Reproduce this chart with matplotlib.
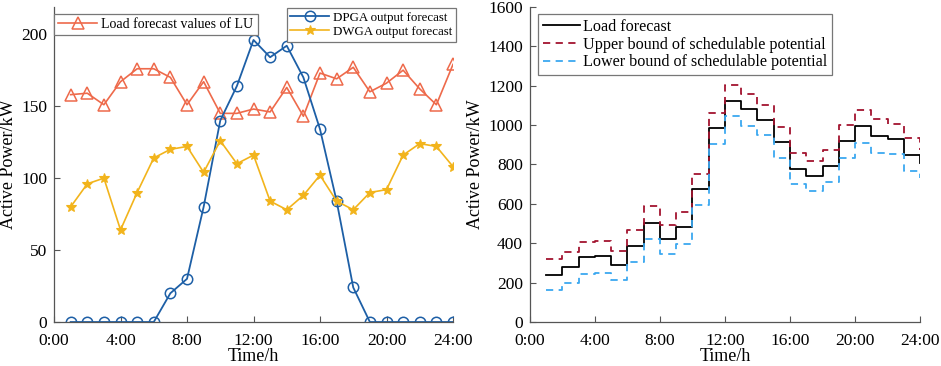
import numpy as np
import matplotlib.pyplot as plt

plt.rcParams['font.family'] = ['Liberation Serif', 'DejaVu Serif']

hours = np.arange(1, 25)
tick_hours = [0, 4, 8, 12, 16, 20, 24]
tick_labels = ['0:00', '4:00', '8:00', '12:00', '16:00', '20:00', '24:00']

# left panel
lu_load = [158, 159, 151, 167, 176, 176, 170, 151, 167, 145, 145, 148,
           146, 163, 143, 173, 169, 177, 160, 166, 175, 162, 151, 179]
dpga = [0, 0, 0, 0, 0, 0, 20, 30, 80, 140, 164, 196,
        184, 192, 170, 134, 84, 24, 0, 0, 0, 0, 0, 0]
dwga = [80, 96, 100, 64, 90, 114, 120, 122, 104, 126, 110, 116,
        84, 78, 88, 102, 84, 78, 90, 92, 116, 124, 122, 108]

# right panel
load_fc = [240, 278, 329, 334, 287, 387, 504, 422, 482, 674, 984, 1124,
           1081, 1025, 914, 777, 740, 791, 918, 996, 945, 931, 850, 806]
upper = [319, 355, 407, 411, 363, 467, 589, 494, 560, 753, 1062, 1203,
         1160, 1103, 989, 857, 818, 872, 1001, 1077, 1030, 1004, 933, 874]
lower = [163, 197, 246, 249, 215, 307, 422, 344, 397, 596, 903, 1047,
         994, 948, 835, 701, 667, 711, 835, 911, 860, 852, 769, 730]

fig = plt.figure(figsize=(9.41, 3.66), dpi=100)
ax1 = fig.add_axes([0.0574, 0.1202, 0.424, 0.861])
ax2 = fig.add_axes([0.5632, 0.1202, 0.4145, 0.861])

gray = '#555555'


def style(ax):
    for s in ['top', 'right']:
        ax.spines[s].set_visible(False)
    for s in ['left', 'bottom']:
        ax.spines[s].set_color(gray)
        ax.spines[s].set_linewidth(0.9)
    ax.tick_params(direction='in', length=4, width=0.8, color=gray,
                   labelsize=12.5)
    ax.tick_params(axis='x', pad=8)
    ax.tick_params(axis='y', pad=5)
    ax.set_xlim(0, 24)
    ax.set_xticks(tick_hours)
    ax.set_xticklabels(tick_labels)
    ax.set_xlabel('Time/h', fontsize=13, labelpad=-1)
    ax.set_ylabel('Active Power/kW', fontsize=13, labelpad=3)


l1, = ax1.plot(hours, lu_load, color='#EE6A4B', lw=1.2, marker='^',
               ms=8, mfc='none', mew=1.1, label='Load forecast values of LU')
l2, = ax1.plot(hours, dpga, color='#1D5FA6', lw=1.3, marker='o',
               ms=7.5, mfc='none', mew=1.1, label='DPGA output forecast')
l3, = ax1.plot(hours, dwga, color='#F2B41C', lw=1.2, marker='*',
               ms=7, mew=0.8, label='DWGA output forecast')
style(ax1)
ax1.set_ylim(0, 219)
ax1.set_yticks([0, 50, 100, 150, 200])

leg_kw = dict(fancybox=False, framealpha=1, edgecolor='#777777',
              borderpad=0.3, labelspacing=0.15, handletextpad=0.3,
              borderaxespad=0)
lg1 = ax1.legend(handles=[l1], loc='upper left', bbox_to_anchor=(0.0, 0.977),
                 fontsize=10, handlelength=2.8, **leg_kw)
lg1.get_frame().set_linewidth(0.9)
ax1.add_artist(lg1)
lg2 = ax1.legend(handles=[l2, l3], loc='upper left',
                 bbox_to_anchor=(0.583, 0.997), fontsize=9.3,
                 handlelength=3.0, **leg_kw)
lg2.get_frame().set_linewidth(0.9)

ax2.step(hours, load_fc, where='post', color='black', lw=1.3,
         label='Load forecast')
ax2.step(hours, upper, where='post', color='#A2142F', lw=1.3,
         ls=(0, (4, 3)), label='Upper bound of schedulable potential')
ax2.step(hours, lower, where='post', color='#3BA8F0', lw=1.3,
         ls=(0, (4, 3)), label='Lower bound of schedulable potential')
style(ax2)
ax2.set_ylim(0, 1600)
ax2.set_yticks(np.arange(0, 1601, 200))
lg3 = ax2.legend(loc='upper left', bbox_to_anchor=(0.02, 0.977),
                 fontsize=11.6, fancybox=False, framealpha=1,
                 edgecolor='#777777', borderpad=0.3, labelspacing=0.1,
                 handlelength=2.3, handletextpad=0.2, borderaxespad=0)
lg3.get_frame().set_linewidth(0.9)

fig.savefig('out.png', dpi=100)
